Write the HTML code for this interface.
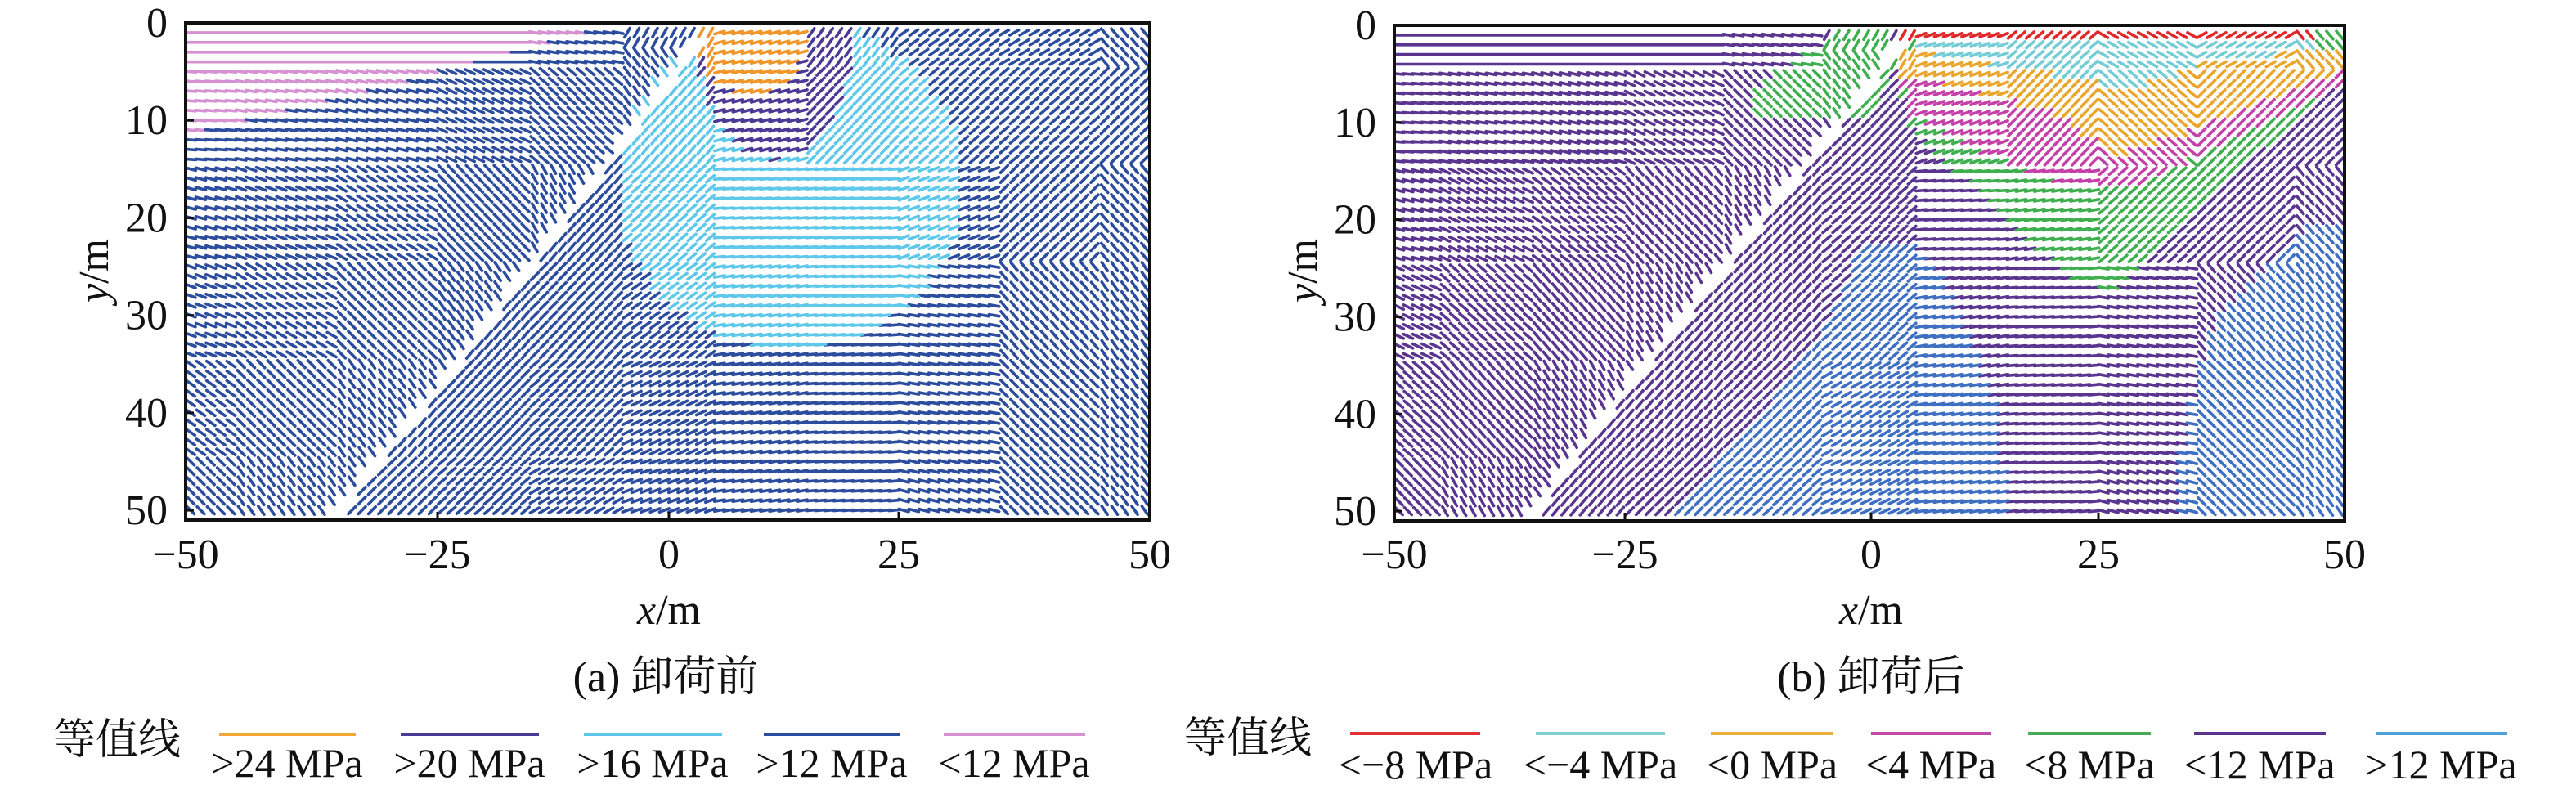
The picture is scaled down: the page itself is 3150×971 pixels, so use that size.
<!DOCTYPE html>
<html><head><meta charset="utf-8">
<style>
html,body{margin:0;padding:0;background:#fff;}
svg{display:block;}
text{font-family:"Liberation Serif","Noto Serif CJK SC",serif;fill:#111;}
</style></head>
<body>
<svg id="fig" width="3150" height="971" viewBox="0 0 3150 971" xmlns="http://www.w3.org/2000/svg">
  <g id="panelA"></g>
  <g id="panelB"></g>

  <text x="814" y="845" font-size="52" text-anchor="middle">(a) 卸荷前</text>
  <text x="2288" y="845" font-size="52" text-anchor="middle">(b) 卸荷后</text>

  <g>
    <text x="143" y="922" font-size="52" text-anchor="middle">等值线</text>
    <line x1="268" y1="898" x2="435" y2="898" stroke="#f0a830" stroke-width="4"/>
    <text x="351" y="950" font-size="50" text-anchor="middle">&gt;24 MPa</text>
    <line x1="490" y1="898" x2="659" y2="898" stroke="#4b3a95" stroke-width="4"/>
    <text x="574" y="950" font-size="50" text-anchor="middle">&gt;20 MPa</text>
    <line x1="714" y1="898" x2="883" y2="898" stroke="#5ec8ea" stroke-width="4"/>
    <text x="798" y="950" font-size="50" text-anchor="middle">&gt;16 MPa</text>
    <line x1="934" y1="898" x2="1101" y2="898" stroke="#2c4c9e" stroke-width="4"/>
    <text x="1017" y="950" font-size="50" text-anchor="middle">&gt;12 MPa</text>
    <line x1="1154" y1="898" x2="1327" y2="898" stroke="#d591d2" stroke-width="4"/>
    <text x="1240" y="950" font-size="50" text-anchor="middle">&lt;12 MPa</text>
  </g>

  <g>
    <text x="1526" y="920" font-size="52" text-anchor="middle">等值线</text>
    <line x1="1651" y1="897" x2="1810" y2="897" stroke="#e03232" stroke-width="4"/>
    <text x="1731" y="952" font-size="50" text-anchor="middle">&lt;−8 MPa</text>
    <line x1="1878" y1="897" x2="2036" y2="897" stroke="#80cfd0" stroke-width="4"/>
    <text x="1957" y="952" font-size="50" text-anchor="middle">&lt;−4 MPa</text>
    <line x1="2092" y1="897" x2="2242" y2="897" stroke="#e8b03a" stroke-width="4"/>
    <text x="2167" y="952" font-size="50" text-anchor="middle">&lt;0 MPa</text>
    <line x1="2288" y1="897" x2="2435" y2="897" stroke="#c04aa6" stroke-width="4"/>
    <text x="2361" y="952" font-size="50" text-anchor="middle">&lt;4 MPa</text>
    <line x1="2480" y1="897" x2="2630" y2="897" stroke="#4aaa5a" stroke-width="4"/>
    <text x="2555" y="952" font-size="50" text-anchor="middle">&lt;8 MPa</text>
    <line x1="2683" y1="897" x2="2844" y2="897" stroke="#5a3590" stroke-width="4"/>
    <text x="2763" y="952" font-size="50" text-anchor="middle">&lt;12 MPa</text>
    <line x1="2905" y1="897" x2="3066" y2="897" stroke="#4f9fd8" stroke-width="4"/>
    <text x="2985" y="952" font-size="50" text-anchor="middle">&gt;12 MPa</text>
  </g>
</svg>
<script>
// ---- data ----
const xTicks = [-50, -25, 0, 25, 50];
const yTicks = [0, 10, 20, 30, 40, 50];
const xTickLabels = ["−50", "−25", "0", "25", "50"];
const yTickLabels = ["0", "10", "20", "30", "40", "50"];
const rowDepths = [1,2,3,4,5,6,7,8,9,10,11,12,13,14,15,16,17,18,19,20,21,22,23,24,25,26,27,28,29,30,31,32,33,34,35,36,37,38,39,40,41,42,43,44,45,46,47,48,49,50];
const colPositions = [-49.5,-48.5,-47.5,-46.5,-45.5,-44.5,-43.5,-42.5,-41.5,-40.5,-39.5,-38.5,-37.5,-36.5,-35.5,-34.5,-33.5,-32.5,-31.5,-30.5,-29.5,-28.5,-27.5,-26.5,-25.5,-24.5,-23.5,-22.5,-21.5,-20.5,-19.5,-18.5,-17.5,-16.5,-15.5,-14.5,-13.5,-12.5,-11.5,-10.5,-9.5,-8.5,-7.5,-6.5,-5.5,-4.5,-3.5,-2.5,-1.5,-0.5,0.5,1.5,2.5,3.5,4.5,5.5,6.5,7.5,8.5,9.5,10.5,11.5,12.5,13.5,14.5,15.5,16.5,17.5,18.5,19.5,20.5,21.5,22.5,23.5,24.5,25.5,26.5,27.5,28.5,29.5,30.5,31.5,32.5,33.5,34.5,35.5,36.5,37.5,38.5,39.5,40.5,41.5,42.5,43.5,44.5,45.5,46.5,47.5,48.5,49.5];
const faultLine = [[3, 2], [-35, 50]];
// principal direction angles (deg, + rising to right) on a 10 m grid, rows y=0..50, cols x=-50..50
const anglesA = [
  [0, 0, 0, 0, -10, 60, 15, 55, 35, 30, -50],
  [-5, -10, -15, -25, -40, 50, 15, 45, 40, 40, 45],
  [-15, -20, -30, -45, -60, 40, 5, 5, 20, 45, -50],
  [-20, -30, -45, -55, 45, 35, 10, 5, -10, -50, -55],
  [-35, -45, -55, 45, 40, 25, 10, 5, -10, -45, -55],
  [-45, -55, 45, 40, 30, 20, 10, 5, -15, -45, -55]
];
const anglesB = [
  [0, 0, 0, 0, -10, 60, 20, 40, -30, 30, -50],
  [-5, -10, -15, -25, -45, 45, 20, 45, -40, 45, 45],
  [-15, -25, -35, -50, -60, 40, 5, 10, 40, 45, -50],
  [-25, -40, -50, -60, 50, 40, 10, 5, -10, -50, -55],
  [-40, -50, -60, 50, 45, 30, 10, 5, -10, -45, -55],
  [-45, -60, 50, 45, 40, 25, 10, 5, -15, -45, -55]
];
const baseColorA = "#2c4c9e";
const pinkZoneA = [[-50,0.5],[-7,0.5],[-46,10.5],[-50,11.5]];
const cyanEllipseA = [13, 16.5, 18.5, 17];
const purpleEllipseA = [11.5, 1, 8.5, 13];
const orangeEllipseA = [9, 0, 6.5, 7.5];
const baseColorB = "#5a3590";
const blueZoneB1 = [[-1,22.5],[4,22.5],[8,26],[10,30],[14,40],[15,51],[-21,51],[-11,40],[-4,30]];
const blueZoneB2 = [[46,21],[50,21],[50,51],[32.5,51],[34,40],[37,30]];
const greenLeftB = [[-3,0.5],[2,0.5],[3,3],[0,9.5],[-12,9.5],[-12,6.5],[-7,3]];
const greenVB = [[3,0.5],[50,0.5],[50,5],[34,20],[26,27.5],[22,26],[15,20],[4,10],[3,4]];
const pinkZoneB = [[3,4.5],[50,4.5],[50,6],[28,17],[20,16],[10,12],[4,9]];
const orangeZoneB = [[3,2.5],[50,2.5],[50,4.5],[34,11],[27,13.5],[20,9],[8,6],[3,5]];
const cyanZoneB = [[5,1.5],[47,1.5],[47,2.5],[35,4],[28,7],[24,5.5],[12,3.8],[5,2.6]];
const redZoneB = [[3,0],[47,0],[47,1.6],[3,1.6]];

const NS = "http://www.w3.org/2000/svg";
const panels = [
  {g: "panelA", key: "a", xr: [227, 535, 818, 1099, 1406], top: 28, bottom: 636, angles: anglesA},
  {g: "panelB", key: "b", xr: [1705, 1987, 2288, 2566, 2867], top: 31, bottom: 637, angles: anglesB}
];
function makeX(p){ return function(v){
  for (let i=0;i<xTicks.length-1;i++){
    if (v<=xTicks[i+1] || i===xTicks.length-2){
      const t=(v-xTicks[i])/(xTicks[i+1]-xTicks[i]);
      return p.xr[i]+t*(p.xr[i+1]-p.xr[i]);
    }
  }};}
function makeY(p){ const k=(p.bottom-p.top)/51; return function(v){ return p.top+k*v; }; }
function inPoly(x,y,poly){
  let c=false;
  for (let i=0,j=poly.length-1;i<poly.length;j=i++){
    const xi=poly[i][0],yi=poly[i][1],xj=poly[j][0],yj=poly[j][1];
    if (((yi>y)!==(yj>y)) && (x < (xj-xi)*(y-yi)/(yj-yi)+xi)) c=!c;
  }
  return c;
}
function inEll(x,y,e){ const dx=(x-e[0])/e[2], dy=(y-e[1])/e[3]; return dx*dx+dy*dy<=1; }
function colorA(x,y){
  let c=baseColorA;
  if (inPoly(x,y,pinkZoneA)) c="#d591d2";
  if (inEll(x,y,cyanEllipseA)) c="#5ec8ea";
  if (inEll(x,y,purpleEllipseA)) c="#4b3a95";
  if (inEll(x,y,orangeEllipseA)) c="#f0962a";
  return c;
}
function colorB(x,y){
  let c=baseColorB;
  if (inPoly(x,y,blueZoneB1)) c="#3f6fc2";
  if (inPoly(x,y,blueZoneB2)) c="#3f6fc2";
  if (inPoly(x,y,greenLeftB)) c="#3fae4f";
  if (inPoly(x,y,greenVB)) c="#3fae4f";
  if (inPoly(x,y,pinkZoneB)) c="#c43fa8";
  if (inPoly(x,y,orangeZoneB)) c="#eaa52c";
  if (inPoly(x,y,cyanZoneB)) c="#74cdd6";
  if (inPoly(x,y,redZoneB)) c="#e02828";
  return c;
}
function faultX(y){
  const a=faultLine[0], b=faultLine[1];
  return a[0]+(y-a[1])*(b[0]-a[0])/(b[1]-a[1]);
}

panels.forEach(function(p){
  const g=document.getElementById(p.g);
  const X=makeX(p), Y=makeY(p);
  const clip=document.createElementNS(NS,"clipPath");
  clip.setAttribute("id","clip-"+p.key);
  const cr=document.createElementNS(NS,"rect");
  cr.setAttribute("x",p.xr[0]); cr.setAttribute("y",p.top);
  cr.setAttribute("width",p.xr[4]-p.xr[0]); cr.setAttribute("height",p.bottom-p.top);
  clip.appendChild(cr); g.appendChild(clip);

  const field=document.createElementNS(NS,"g");
  
  
  field.setAttribute("clip-path","url(#clip-"+p.key+")");
  field.setAttribute("stroke-width","3.6");
  field.setAttribute("stroke-linecap","round");
  const L=12.5;
  let paths={};
  rowDepths.forEach(function(y){
    colPositions.forEach(function(x){
      if (y>=1.5 && Math.abs(x-faultX(y))<0.75) return;
      const ri=Math.max(0,Math.min(5,Math.round(y/10)));
      const ci=Math.max(0,Math.min(10,Math.round((x+50)/10)));
      let ang=p.angles[ri][ci];
      const fx=faultX(y);
      if (y>2 && x<fx && ang>0 && x>fx-10) ang=-55;
      if (y>2 && x>fx && ang<0 && x<fx+10) ang=50;
      const col=(p.key==="a")?colorA(x,y):colorB(x,y);
      const cx=X(x), cy=Y(y);
      const r=ang*Math.PI/180;
      const dx=Math.cos(r)*L/2, dy=-Math.sin(r)*L/2;
      const d="M"+(cx-dx).toFixed(1)+" "+(cy-dy).toFixed(1)+"L"+(cx+dx).toFixed(1)+" "+(cy+dy).toFixed(1);
      (paths[col]=paths[col]||[]).push(d);
    });
  });
  Object.keys(paths).forEach(function(col){
    const pe=document.createElementNS(NS,"path");
    
    
    pe.setAttribute("d",paths[col].join(""));
    pe.setAttribute("stroke",col);
    pe.setAttribute("fill","none");
    field.appendChild(pe);
  });
  g.appendChild(field);

  const fr=document.createElementNS(NS,"rect");
  
  
  fr.setAttribute("x",p.xr[0]); fr.setAttribute("y",p.top);
  fr.setAttribute("width",p.xr[4]-p.xr[0]); fr.setAttribute("height",p.bottom-p.top);
  fr.setAttribute("fill","none"); fr.setAttribute("stroke","#111"); fr.setAttribute("stroke-width","4");
  g.appendChild(fr);

  xTicks.forEach(function(v,i){
    const px=X(v);
    const t=document.createElementNS(NS,"line");
    
    
    t.setAttribute("x1",px); t.setAttribute("x2",px);
    t.setAttribute("y1",p.bottom); t.setAttribute("y2",p.bottom-10);
    t.setAttribute("stroke","#111"); t.setAttribute("stroke-width","3");
    g.appendChild(t);
    const tx=document.createElementNS(NS,"text");
    
    
    tx.setAttribute("x",px); tx.setAttribute("y",695);
    tx.setAttribute("font-size","52"); tx.setAttribute("text-anchor","middle");
    tx.textContent=xTickLabels[i];
    g.appendChild(tx);
  });
  yTicks.forEach(function(v,i){
    const py=Y(v);
    const t=document.createElementNS(NS,"line");
    
    
    t.setAttribute("x1",p.xr[0]); t.setAttribute("x2",p.xr[0]+10);
    t.setAttribute("y1",py); t.setAttribute("y2",py);
    t.setAttribute("stroke","#111"); t.setAttribute("stroke-width","3");
    g.appendChild(t);
    const tx=document.createElementNS(NS,"text");
    
    
    tx.setAttribute("x",p.xr[0]-22); tx.setAttribute("y",py+17);
    tx.setAttribute("font-size","52"); tx.setAttribute("text-anchor","end");
    tx.textContent=yTickLabels[i];
    g.appendChild(tx);
  });
  const xt=document.createElementNS(NS,"text");
  
  
  xt.setAttribute("x",X(0)); xt.setAttribute("y",763);
  xt.setAttribute("font-size","52"); xt.setAttribute("text-anchor","middle");
  xt.innerHTML='<tspan font-style="italic">x</tspan>/m';
  g.appendChild(xt);
  const yt=document.createElementNS(NS,"text");
  
  
  const yx=p.xr[0]-112, yy=331;
  yt.setAttribute("transform","translate("+(yx+17)+","+yy+") rotate(-90)");
  yt.setAttribute("font-size","52"); yt.setAttribute("text-anchor","middle");
  yt.innerHTML='<tspan font-style="italic">y</tspan>/m';
  g.appendChild(yt);
});
</script>
</body></html>
